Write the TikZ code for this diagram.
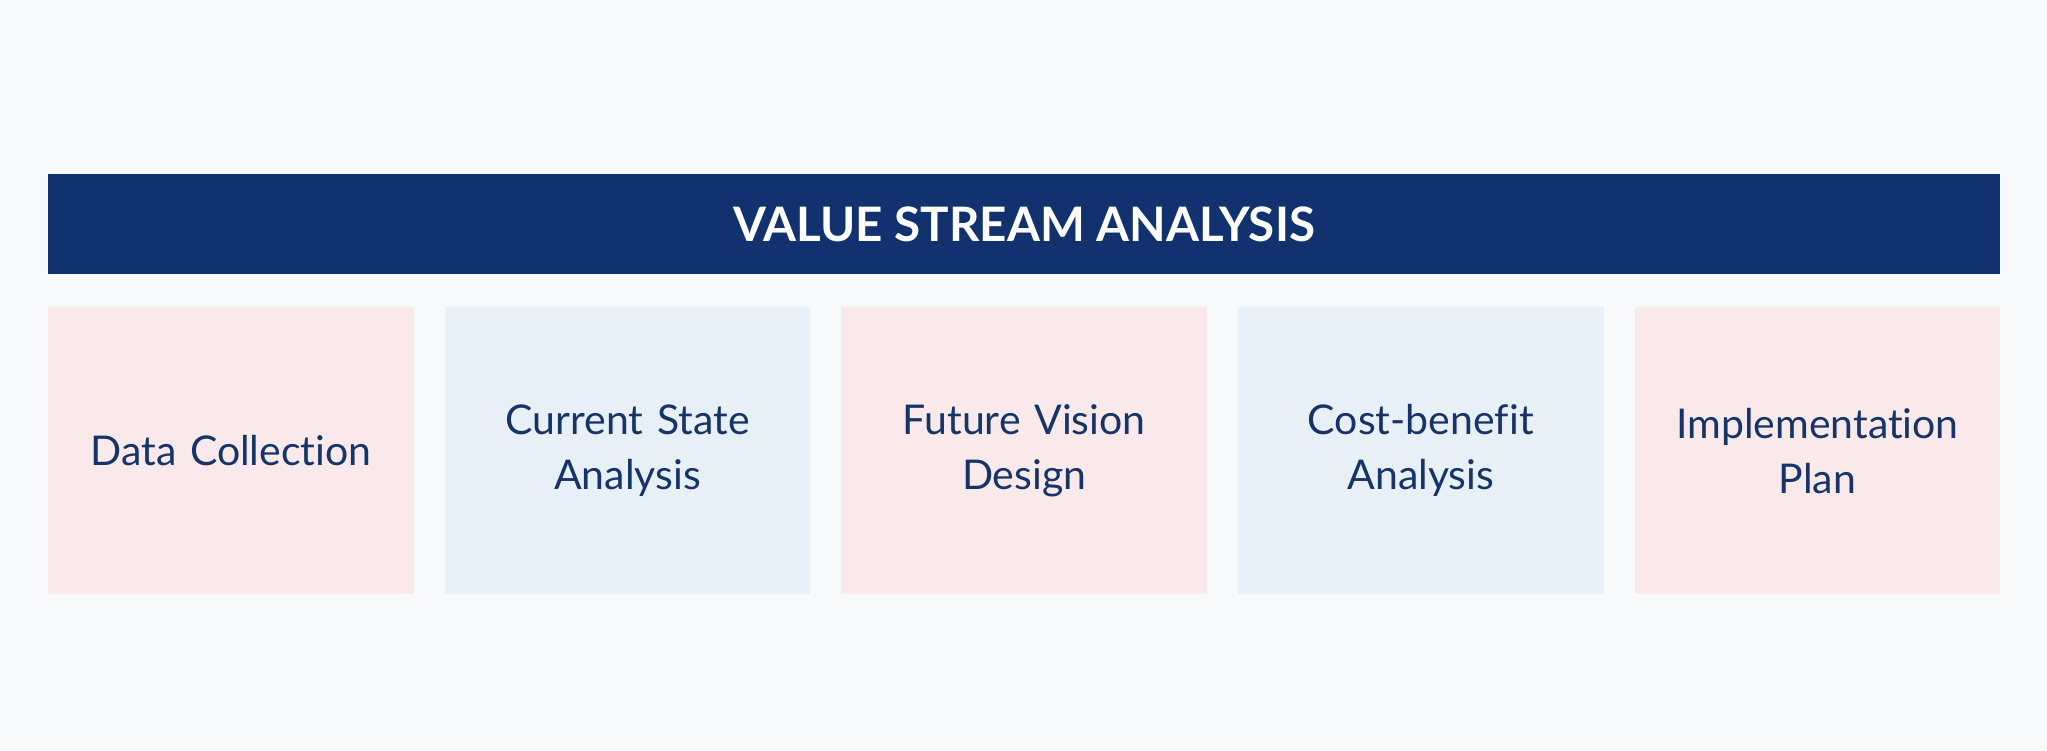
\documentclass[tikz,border=0pt]{standalone}
\usepackage{fontspec}
\setmainfont{Lato}[RawFeature={-liga}]
\definecolor{bg}{HTML}{F8F9FB}
\definecolor{navy}{HTML}{11326F}
\definecolor{txt}{HTML}{173468}
\definecolor{pinkbox}{HTML}{F9E9EA}
\definecolor{bluebox}{HTML}{E7F0F7}
\begin{document}
\begin{tikzpicture}[x=1pt,y=1pt,
  stagebox/.style={minimum width=365.6pt,minimum height=287pt,inner sep=0pt,
    text width=330pt,align=center,text=txt,
    font=\fontsize{41}{55}\selectfont,anchor=north west},
  pinkstage/.style={stagebox,fill=pinkbox},
  bluestage/.style={stagebox,fill=bluebox},
  header/.style={fill=navy,minimum width=1952pt,minimum height=100pt,inner sep=0pt,
    text=white,font=\fontsize{47.5}{52}\selectfont\bfseries,anchor=north west}]
\fill[bg] (0,0) rectangle (2047,750);
\useasboundingbox (0,0) rectangle (2047,750);
\node[header] (title) at (48,576) {VALUE STREAM ANALYSIS};
\node[pinkstage] (s1) at (48,443) {Data Collection};
\node[bluestage] (s2) at (444.6,443) {Current State\\Analysis};
\node[pinkstage] (s3) at (841.2,443) {Future Vision\\Design};
\node[bluestage] (s4) at (1237.8,443) {Cost-benefit\\Analysis};
\node[pinkstage] (s5) at (1634.4,443) {Implementation\\Plan};
\end{tikzpicture}
\end{document}
